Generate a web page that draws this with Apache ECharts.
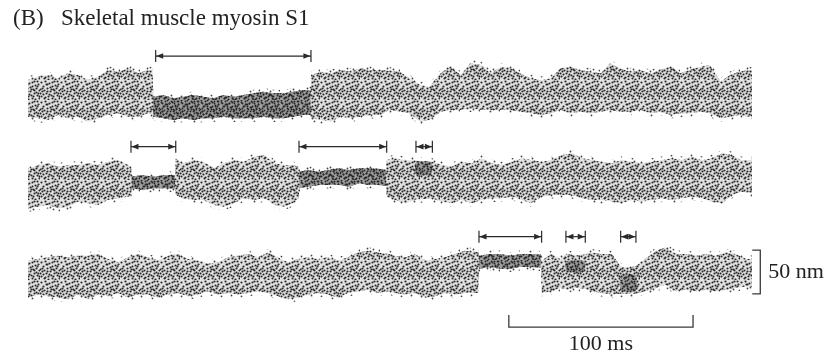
<!DOCTYPE html>
<html><head><meta charset="utf-8">
<script src="https://cdn.jsdelivr.net/npm/echarts@6/dist/echarts.min.js"></script>
<style>html,body{margin:0;padding:0;background:#fff}#c{width:826px;height:355px}</style>
</head><body><div id="c"></div><script>
// ---------------- data ----------------
const titleText = '(B)   Skeletal muscle myosin S1';
// trace envelopes: [time (ms), upper edge (nm), lower edge (nm)]
const trace1 = [[0,17.8,-23],[5.4,21.5,-24.8],[10.9,23.3,-26.7],[16.3,19.6,-21.1],[21.7,25.2,-24.8],[27.1,23.3,-23],[32.6,17.8,-28.5],[38,21.5,-24.8],[43.4,28.9,-21.1],[48.9,27,-19.3],[54.3,30.7,-23],[59.7,25.2,-23],[65.1,28.9,-19.3],[67.6,28,-20],
[68,-0.7,-23],[73.5,1.1,-24.8],[78.9,-2.6,-26.7],[84.3,-0.7,-24.8],[89.7,1.1,-26.7],[95.2,-0.7,-24.8],[100.6,-2.6,-24.8],[106,1.1,-23],[111.5,-0.7,-24.8],[116.9,1.1,-24.8],[122.3,3,-24.8],[127.7,4.8,-23],[133.2,3,-24.8],[138.6,3,-24.8],[144,4.8,-23],[149.4,6.7,-21.1],[153.4,6,-21],
[153.8,23.3,-24.8],[158.9,27,-26.7],[164.3,25.2,-28.5],[169.7,28.9,-23],[175.1,27,-24.8],[180.6,30.7,-23],[186,28.9,-21.1],[191.4,28.9,-21.1],[196.5,28,-15],[202,27,-17.4],[207,19.6,-19.3],[213,12.2,-28.5],[218,10.4,-26.7],[224,25.2,-17.4],[229,32.6,-15.6],[235,23.3,-15.6],[240,36.3,-13.7],[246,34.4,-15.6],[251,25.2,-15.6],[257,32.6,-15.6],[262,30.7,-15.6],[267,25.2,-17.4],[273,19.6,-19.3],[278,17.8,-21.1],[284,19.6,-19.3],[289,30.7,-15.6],[294,32.6,-19.3],[300,28.9,-17.4],[305,27,-19.3],[311,25.2,-17.4],[316,36.3,-15.6],[321,30.7,-17.4],[327,27,-17.4],[332,28.9,-15.6],[338,25.2,-19.3],[343,28.9,-17.4],[349,32.6,-21.1],[354,25.2,-19.3],[359,28.9,-19.3],[365,32.6,-17.4],[370,34.4,-19.3],[376,15.9,-24.8],[381,23.3,-23],[386,27,-21.1],[391,28.9,-23],[393,28,-22]];
const trace2 = [[0,16.7,-25.9],[5.4,22.2,-24.1],[10.9,24.1,-22.2],[16.3,20.4,-25.9],[21.7,22.2,-24.1],[27.1,22.2,-18.5],[32.6,24.1,-20.4],[38,22.2,-22.2],[43.4,25.9,-16.7],[48.9,27.8,-14.8],[54.3,22.2,-13],[56,20,-12],
[56.3,9.3,-3.7],[62,11.1,-5.6],[68,9.3,-3.7],[74,11.1,-3.7],[79.8,11,-4],
[80.2,29.6,-11.1],[84,24.1,-14.8],[90,27.8,-16.7],[95,25.9,-16.7],[101,18.5,-22.2],[106,24.1,-24.1],[112,27.8,-20.4],[117,25.9,-14.8],[123,31.5,-16.7],[128,33.3,-14.8],[134,24.1,-22.2],[139,22.2,-24.1],[144,22.2,-20],[146.9,20,-15],
[147.3,14.8,-3.7],[152,16.7,-1.85],[158,14.8,0],[163,16.7,0],[169,18.5,0],[174,16.7,-1.85],[180,18.5,1.85],[185,18.5,0],[190,18,0],[194.3,17,-1],
[194.7,27.8,-13],[199,29.6,-16.7],[205,27.8,-20.4],[210.6,27,-16],[219,26,-15],
[225,22.2,-18.5],[230,20.4,-20.4],[235,25.9,-16.7],[241,24.1,-20.4],[246,29.6,-16.7],[252,24.1,-14.8],[257,22.2,-14.8],[263,25.9,-13],[268,29.6,-16.7],[273,27.8,-20.4],[279,25.9,-13],[284,27.8,-11.1],[290,33.3,-11.1],[295,35.2,-11.1],[301,29.6,-14.8],[306,27.8,-16.7],[311,25.9,-16.7],[317,24.1,-18.5],[322,27.8,-20.4],[328,25.9,-16.7],[333,24.1,-18.5],[339,25.9,-16.7],[344,27.8,-14.8],[349,29.6,-16.7],[355,27.8,-14.8],[360,31.5,-13],[366,27.8,-14.8],[371,29.6,-18.5],[377,35.2,-20.4],[382,33.3,-11.1],[387,27.8,-7.4],[393,27.8,-9]];
const trace3 = [[0,18.1,-24.4],[5.4,20,-20.7],[10.9,21.9,-22.6],[16.3,23.7,-24.4],[21.7,21.9,-26.3],[27.1,23.7,-20.7],[32.6,23.7,-26.3],[38,25.6,-20.7],[43.4,20,-22.6],[48.9,16.3,-18.9],[54.3,21.9,-24.4],[59.7,25.6,-20.7],[65.1,21.9,-20.7],[70.6,18.1,-24.4],[76,23.7,-20.7],[81.4,25.6,-18.9],[86.8,20,-22.6],[92.3,18.1,-20.7],[97.7,14.4,-17],[103.1,16.3,-20.7],[108.6,21.9,-18.9],[114,23.7,-20.7],[119.4,25.6,-18.9],[124.8,21.9,-17],[130.3,27.4,-18.9],[135.7,21.9,-22.6],[141.1,16.3,-26.3],[146.5,20,-24.4],[152,21.9,-20.7],[157.4,20,-18.9],[162.8,21.9,-20.7],[168.3,18.1,-24.4],[173.7,21.9,-18.9],[179.1,27.4,-17],[184.5,29.3,-15.2],[190,27.4,-18.9],[196,25.6,-17],[199,23.7,-18.9],[205,21.9,-20.7],[210,25.6,-18.9],[216,18.1,-24.4],[221,20,-22.6],[226,21.9,-18.9],[232,25.6,-20.7],[237,29.3,-18.9],[244.4,28,-19],
[244.8,23.7,8.9],[251,25.6,10.7],[256,25.6,8.9],[262,23.7,8.9],[267,25.6,10.7],[273,25.6,10.7],[278.5,25,10],
[278.9,18.1,-18.9],[284,25.6,-17],[289,20,-13.3],[292.3,26,-15],[297,24,-13],[302,25,-14],
[306,27.4,-17],[311,25.6,-18.9],[317,25.6,-20.7],[321.8,11,-20],[326,10,-20],[330,12,-20],
[335,20,-17],[341,29.3,-13.3],[346,33,-9.6],[352,25.6,-17],[357,25.6,-15.2],[363,23.7,-17],[368,25.6,-15.2],[373,23.7,-17],[379,27.4,-15.2],[384,25.6,-13.3],[390,20,-11.5],[393,20,-12]];
// long bound (attached) intervals, ms
const bound1 = [[68,153.4]];
const bound2 = [[56.3,79.8],[147.3,194.3]];
const bound3 = [[244.8,278.5]];
// short events: dense cluster [start ms, end ms, upper nm, lower nm]
const cores1 = [];
const cores2 = [[210.6,219,25,12]];
const cores3 = [[292.3,302,17,6],[321.8,330,1,-16]];
// event arrows: [start ms, end ms]
const arrows1 = [[69.3,153.6]];
const arrows2 = [[55.9,80.2],[147.1,194.7],[210.6,219.5]];
const arrows3 = [[244.8,278.8],[292,302.5],[321.7,330]];
const arrowLevels = [44.4, 42.6, 45.5]; // nm
// scale bars
const timeBar = [261, 361];      // ms
const timeBarLevel = -58;        // nm
const timeBarLabel = '100 ms';
const nmBar = [-20, 30];         // nm
const nmBarAt = 397.5;           // ms
const nmBarLabel = '50 nm';

// ---------------- styling ----------------
const SERIF = '"Liberation Serif", "DejaVu Serif", serif';
const INK = '#2a2a2a';
const tileDots = [[1,2],[5,1],[9,3],[14,1],[18,4],[3,6],[7,8],[12,6],[16,8],[19,10],[2,11],[6,13],[10,11],[14,13],[17,15],[1,16],[4,18],[8,16],[12,18],[15,19],[19,18],[10,7],[6,4],[3,14],[11,15],[17,1],[8,19],[13,9],[0,9],[16,12]];
const extraDots = [[7,4],[12,2],[2,8],[15,5],[18,13],[9,14],[5,17],[13,16],[0,13],[11,9],[4,10],[17,6],[7,11],[19,16],[14,10]];
function makeTile(bg, dots, r, color){
  const c = document.createElement('canvas'); c.width = 20; c.height = 20;
  const g = c.getContext('2d');
  if (bg){ g.fillStyle = bg; g.fillRect(0,0,20,20); }
  g.fillStyle = color;
  dots.forEach(d=>{ g.beginPath(); g.arc((d[0]%20)+0.5,(d[1]%20)+0.5,r,0,Math.PI*2); g.fill(); });
  return {image:c, repeat:'repeat'};
}
const freeFill  = makeTile('#e2e2e2', tileDots.concat(extraDots), 1.05, '#262626');
const boundFill = makeTile('#a0a0a0', tileDots.concat(extraDots, tileDots.map(d=>[d[0]+10,d[1]+5])), 0.95, '#262626');
const haloFill  = makeTile(null, tileDots.filter((d,i)=>i%3===0), 0.9, '#444');

function traceSeries(idx, pts, bounds, cores){
  return {
    type:'custom', coordinateSystem:'cartesian2d', xAxisIndex:idx, yAxisIndex:idx,
    data:[[0,0]], silent:true, z:2,
    renderItem:function(params, api){
      const children = [];
      const poly = (arr, dTop, dBot) => arr.map(p=>api.coord([p[0], p[1]+dTop]))
        .concat(arr.slice().reverse().map(p=>api.coord([p[0], p[2]-dBot])));
      children.push({type:'polygon', shape:{points:poly(pts,4,4)}, style:{fill:haloFill}});
      children.push({type:'polygon', shape:{points:poly(pts,0,0)}, style:{fill:freeFill}});
      bounds.forEach(b=>{
        const seg = pts.filter(p=>p[0]>=b[0]-1e-6 && p[0]<=b[1]+1e-6);
        children.push({type:'polygon', shape:{points:poly(seg,0,0)}, style:{fill:boundFill}});
      });
      cores.forEach(c=>{
        const seg = [[c[0],c[2],c[3]],[(c[0]+c[1])/2,c[2]+1.5,c[3]-1.5],[c[1],c[2],c[3]]];
        children.push({type:'polygon', shape:{points:poly(seg,0,0), smooth:0.3}, style:{fill:boundFill}});
      });
      return {type:'group', children};
    }
  };
}
function arrowSeries(idx, arr){
  return {
    type:'custom', coordinateSystem:'cartesian2d', xAxisIndex:idx, yAxisIndex:idx,
    data: arr.map(a=>[a[0], a[1], arrowLevels[idx]]), encode:{x:[0,1], y:2}, silent:true, z:3,
    renderItem:function(params, api){
      const a = api.coord([api.value(0), api.value(2)]);
      const b = api.coord([api.value(1), api.value(2)]);
      const y = a[1], st = {stroke:INK, lineWidth:1.2};
      return {type:'group', children:[
        {type:'line', shape:{x1:a[0],y1:y,x2:b[0],y2:y}, style:st},
        {type:'line', shape:{x1:a[0],y1:y-6,x2:a[0],y2:y+6}, style:st},
        {type:'line', shape:{x1:b[0],y1:y-6,x2:b[0],y2:y+6}, style:st},
        {type:'polygon', shape:{points:[[a[0]+0.5,y],[a[0]+7.5,y-2.8],[a[0]+7.5,y+2.8]]}, style:{fill:INK}},
        {type:'polygon', shape:{points:[[b[0]-0.5,y],[b[0]-7.5,y-2.8],[b[0]-7.5,y+2.8]]}, style:{fill:INK}}
      ]};
    }
  };
}
const scaleSeries = {
  type:'custom', coordinateSystem:'cartesian2d', xAxisIndex:2, yAxisIndex:2,
  data:[[0,0]], silent:true, z:3,
  renderItem:function(params, api){
    const st = {stroke:'#3a3a3a', lineWidth:1.3, fill:null};
    const t0 = api.coord([timeBar[0], timeBarLevel]), t1 = api.coord([timeBar[1], timeBarLevel]);
    const n0 = api.coord([nmBarAt, nmBar[0]]), n1 = api.coord([nmBarAt, nmBar[1]]);
    return {type:'group', children:[
      {type:'polyline', shape:{points:[[t0[0],t0[1]-12],t0,t1,[t1[0],t1[1]-12]]}, style:st},
      {type:'polyline', shape:{points:[[n1[0]-8,n1[1]],n1,n0,[n0[0]-8,n0[1]]]}, style:st},
      {type:'text', x:(t0[0]+t1[0])/2, y:t0[1]+17, style:{text:timeBarLabel, font:'22px '+SERIF, fill:'#222', align:'center', verticalAlign:'middle'}},
      {type:'text', x:n0[0]+8, y:(n0[1]+n1[1])/2, style:{text:nmBarLabel, font:'22px '+SERIF, fill:'#222', align:'left', verticalAlign:'middle'}}
    ]};
  }
};

const gridTops = [42, 131, 224];
const option = {
  animation:false,
  backgroundColor:'#fff',
  title:{text:titleText, left:13, top:7, padding:0,
    textStyle:{fontFamily:SERIF, fontSize:23, fontWeight:'normal', color:'#222'}},
  grid: gridTops.map(t=>({left:28, width:724, top:t, height:135})),
  xAxis: gridTops.map((t,i)=>({type:'value', gridIndex:i, min:0, max:393, show:false})),
  yAxis: gridTops.map((t,i)=>({type:'value', gridIndex:i, min:-90, max:60, show:false})),
  series:[
    traceSeries(0, trace1, bound1, cores1), traceSeries(1, trace2, bound2, cores2), traceSeries(2, trace3, bound3, cores3),
    arrowSeries(0, arrows1), arrowSeries(1, arrows2), arrowSeries(2, arrows3),
    scaleSeries
  ]
};
const chart = echarts.init(document.getElementById('c'), null, {renderer:'canvas'});
chart.setOption(option);
</script></body></html>
